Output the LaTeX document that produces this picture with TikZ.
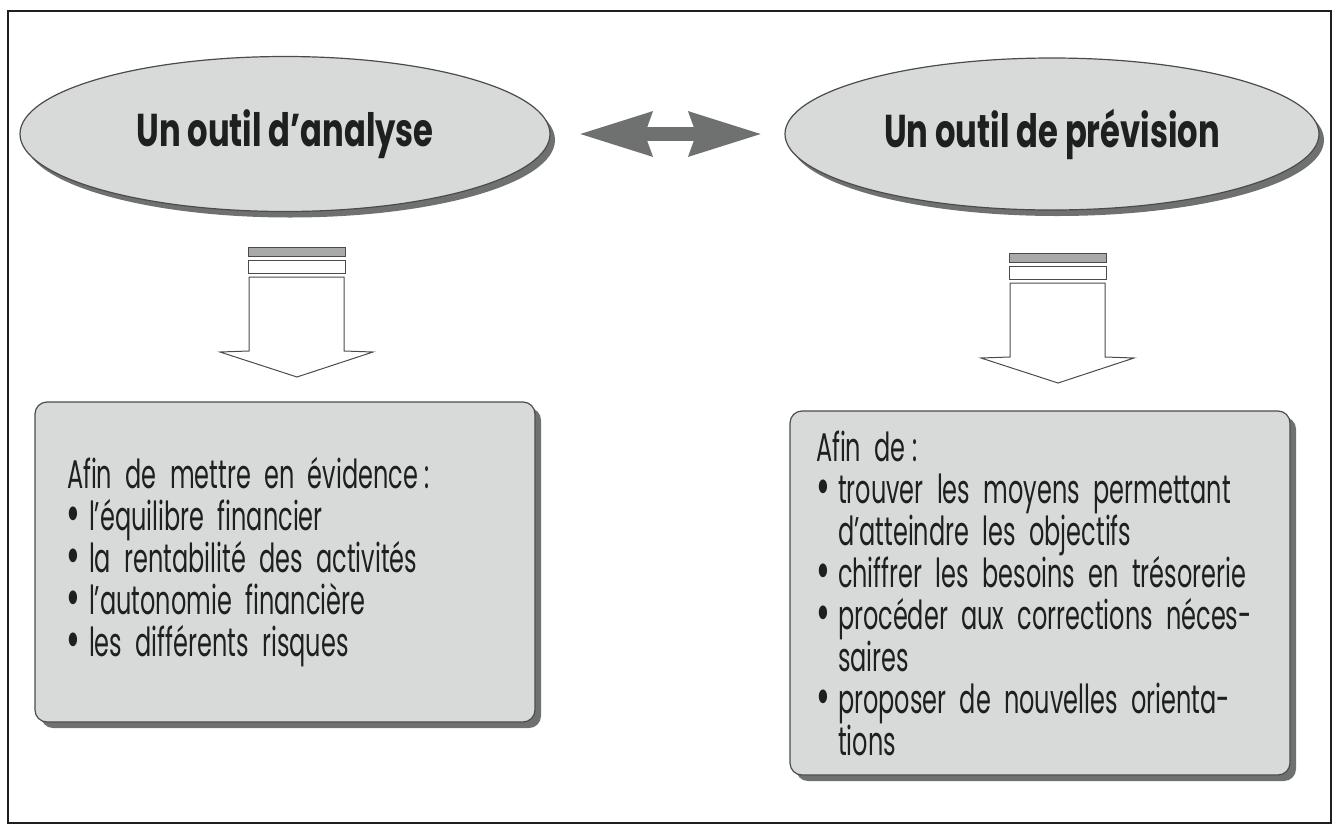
\documentclass[tikz,border=0pt]{standalone}
\usepackage{fontspec}
\setmainfont{Poppins}
\newfontfamily\corps[FakeStretch=0.6]{Poppins}
\newfontfamily\titre[FakeStretch=0.7]{Poppins}
\usetikzlibrary{arrows.meta, positioning, shapes.geometric, shadows}

\definecolor{fondgris}{HTML}{D8DADA}
\definecolor{ombre}{HTML}{6E716F}
\definecolor{trait}{HTML}{4A4C4B}
\definecolor{encre}{HTML}{1E201F}

\newcommand{\puce}{\makebox[11pt][l]{\raisebox{-0.06em}{\scalebox{1.4}{\textbullet}}}}
\newcommand{\retrait}{\hspace*{11pt}}

\begin{document}
\begin{tikzpicture}[
        x=0.5pt, y=-0.5pt,
        outil/.style={ellipse, draw=trait, line width=0.6pt, fill=fondgris, inner sep=0pt,
            drop shadow={shadow xshift=2.5pt, shadow yshift=-3pt, fill=ombre, opacity=1},
            font=\titre\bfseries\fontsize{23}{26}\selectfont, text=encre},
        cadre/.style={draw=trait, line width=0.6pt, fill=fondgris, rounded corners=6pt,
            drop shadow={shadow xshift=3pt, shadow yshift=-3pt, fill=ombre, opacity=1},
            align=left, font=\corps\fontsize{20}{21}\selectfont, text=encre},
        lien/.style={line width=7pt, draw=ombre,
            {Stealth[length=36pt, width=21pt, inset=3pt]}-{Stealth[length=36pt, width=21pt, inset=3pt]}},
        barre/.style={draw=trait, line width=0.5pt}
    ]

    \useasboundingbox (0,0) rectangle (1339,825);
    \draw[line width=1pt, draw=encre] (8,11) rectangle (1331,823);

    % Ellipses
    \node[outil, minimum width=265pt, minimum height=77.5pt] (analyse) at (285,134) {Un outil d’analyse};
    \node[outil, minimum width=267pt, minimum height=76pt] (prevision) at (1052,134) {Un outil de prévision};

    \draw[lien, shorten <=14pt, shorten >=11pt] (analyse.east) -- (prevision.west);

    % Down arrows
    \coordinate (flecheA) at (297,247);
    \coordinate (flecheB) at (1058,253);
    \foreach \f in {flecheA, flecheB} {
        \begin{scope}[shift={(\f)}]
            \draw[barre, fill=ombre!60] (-49,0) rectangle (48,9);
            \draw[barre, fill=white] (-49,13) rectangle (48,26);
            \draw[barre, fill=white] (-48,30) -- (-48,104) -- (-77,105) -- (0,130)
                -- (76,105) -- (47,104) -- (47,30) -- cycle;
        \end{scope}
    }

    % Boxes
    \node[cadre, minimum height=160pt, text width=218pt, inner xsep=16pt] (gauche) at (285,562) {%
        Afin de mettre en évidence\,:\\
        \puce l’équilibre financier\\
        \puce la rentabilité des activités\\
        \puce l’autonomie financière\\
        \puce les différents risques};

    \node[cadre, minimum height=182pt, text width=224pt, inner xsep=13pt] (droite) at (1040,593) {%
        Afin de\,:\\
        \puce trouver les moyens permettant\\
        \retrait d’atteindre les objectifs\\
        \puce chiffrer les besoins en trésorerie\\
        \puce procéder aux corrections néces-\\
        \retrait saires\\
        \puce proposer de nouvelles orienta-\\
        \retrait tions};

\end{tikzpicture}
\end{document}
